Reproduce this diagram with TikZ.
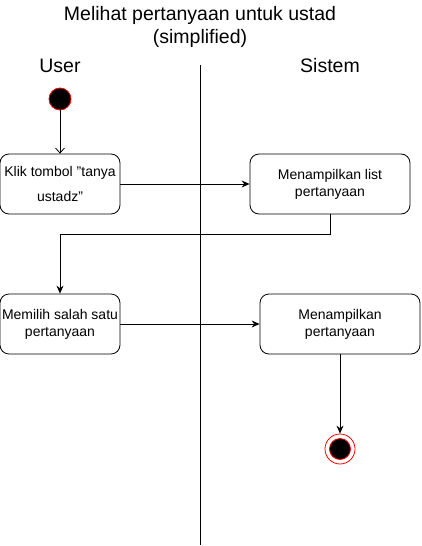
\documentclass[tikz,border=0pt]{standalone}
\usepackage{fontspec}
\setmainfont{Liberation Sans}
\usetikzlibrary{arrows.meta}

\begin{document}
\begin{tikzpicture}[x=1pt,y=-1pt,line width=0.8pt,
        activity/.style={draw,rounded corners=9pt,minimum width=120pt,minimum height=60pt,
            align=center,inner sep=0pt,font=\fontsize{14}{17}\selectfont},
        flow/.style={-{Stealth[length=8pt,width=7pt]}},
        lanename/.style={font=\fontsize{19.5}{23}\selectfont,inner sep=0pt,anchor=base}]
        \useasboundingbox (0,0) rectangle (422,546);
        % judul dan swimlane
        \node[font=\fontsize{19.5}{23}\selectfont,align=center,inner sep=0pt] (judul) at (200,27)
            {Melihat pertanyaan untuk ustad\\(simplified)};
        \node[lanename] (user) at (60,72) {User};
        \node[lanename] (sistem) at (330,72) {Sistem};
        \coordinate (lanetop) at (200,65);
        \coordinate (lanebot) at (200,545);
        \draw (lanetop) -- (lanebot);
        % aktivitas
        \node[circle,fill=black,draw=red,minimum size=22pt,inner sep=0pt] (mulai) at (60,99) {};
        \node[activity] (klik) at (60,184) {Klik tombol "tanya\\[8pt]ustadz"};
        \node[activity,minimum width=160pt] (list) at (330,184) {Menampilkan list\\pertanyaan};
        \node[activity] (pilih) at (60,324) {Memilih salah satu\\pertanyaan};
        \node[activity,minimum width=160pt] (tampil) at (340,324) {Menampilkan\\pertanyaan};
        \node[circle,draw=red,fill=white,minimum size=30pt,inner sep=0pt] (selesai) at (340,449) {};
        \node[circle,fill=black,draw=red,minimum size=21pt,inner sep=0pt] (selesaiisi) at (selesai) {};
        % alur
        \draw[-{Straight Barb[length=5pt,width=9pt]}] (mulai) -- (klik);
        \draw[flow] (klik) -- (list);
        \draw[flow] (list.south) -- ++(0,20) -| (pilih.north);
        \draw[flow] (pilih) -- (tampil);
        \draw[flow] (tampil) -- (selesai);
    \end{tikzpicture}
\end{document}
